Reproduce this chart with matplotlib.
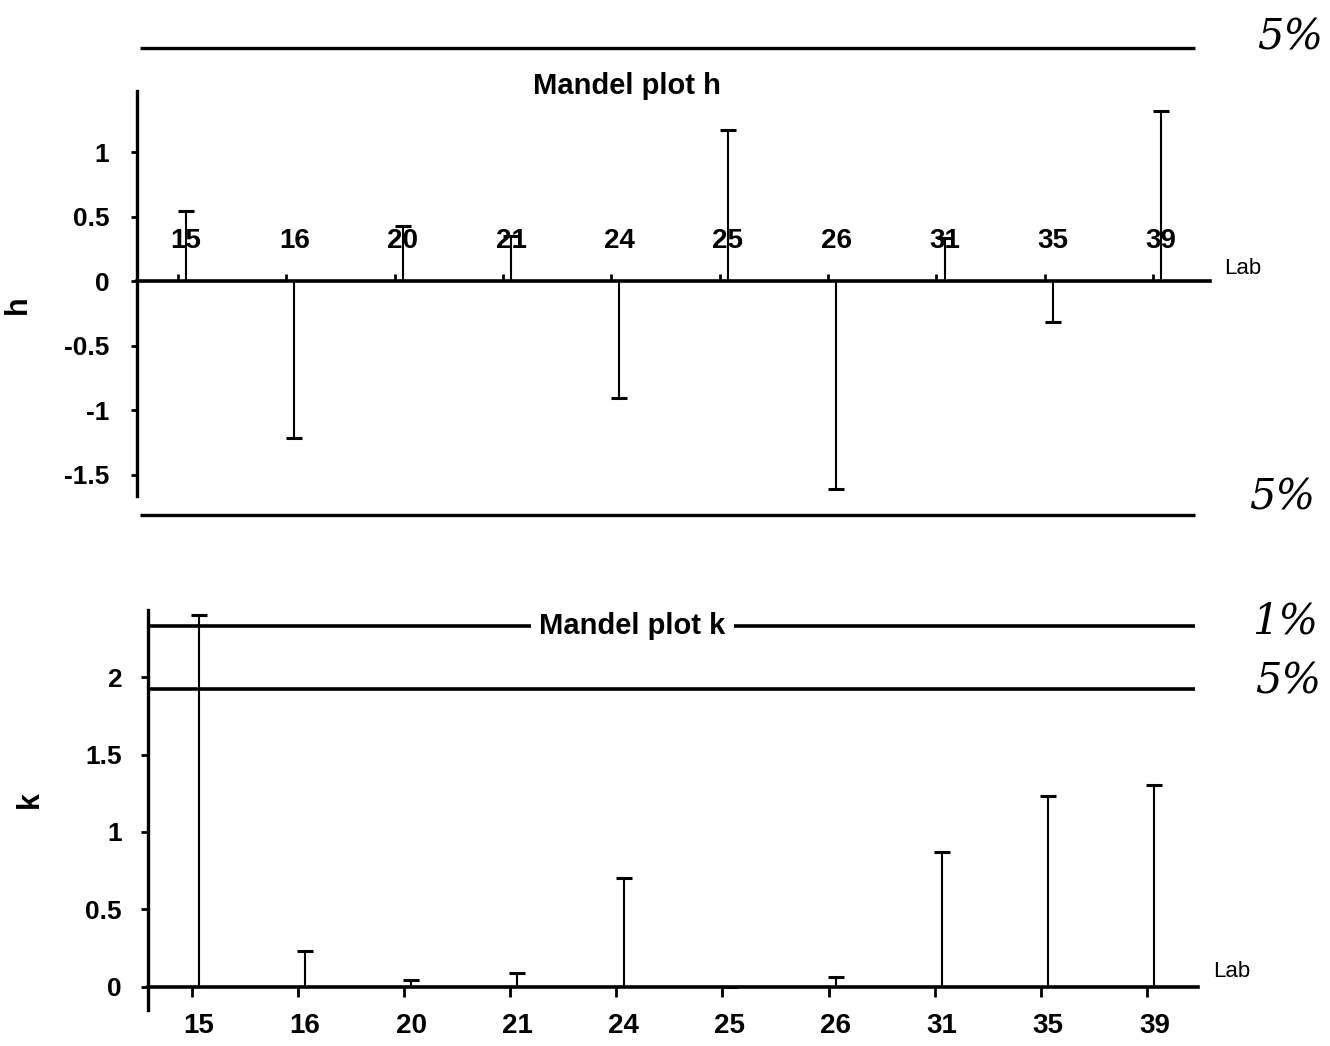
import numpy as np
import matplotlib
matplotlib.use('Agg')
import matplotlib.pyplot as plt
from matplotlib.ticker import FixedLocator

plt.rcParams['font.family'] = ['Liberation Sans Narrow', 'Liberation Sans', 'DejaVu Sans']
plt.rcParams['axes.unicode_minus'] = False

labs = ['15', '16', '20', '21', '24', '25', '26', '31', '35', '39']
h_vals = [0.54, -1.22, 0.43, 0.35, -0.91, 1.17, -1.61, 0.33, -0.32, 1.32]
k_vals = [2.40, 0.23, 0.045, 0.09, 0.70, 0.0, 0.065, 0.87, 1.23, 1.30]
h_crit5 = 1.81
k_crit1 = 2.33
k_crit5 = 1.92
h_ticks = [-1.5, -1, -0.5, 0, 0.5, 1]
h_ticklabels = ['-1.5', '-1', '-0.5', '0', '0.5', '1']
k_ticks = [0, 0.5, 1, 1.5, 2]
k_ticklabels = ['0', '0.5', '1', '1.5', '2']

W, H = 1330, 1046


def px_rect(x0, y0, x1, y1):
    return [x0 / W, 1 - y1 / H, (x1 - x0) / W, (y1 - y0) / H]


def fig_xy(x, y):
    return x / W, 1 - y / H


x = np.arange(len(labs))

fig = plt.figure(figsize=(13.3, 10.46), dpi=100)

# ---- Mandel h ----
ax1 = fig.add_axes(px_rect(137, 30, 1210, 530))
ax1.set_xlim(-0.452, 9.45)
ax1.set_ylim(-1.93, 1.946)
ax1.vlines(x, 0, h_vals, color='k', lw=1.5)
ax1.plot(x, h_vals, ls='none', marker='_', ms=12, mew=2.2, color='k')
ax1.hlines([h_crit5, -h_crit5], -0.42, 9.31, color='k', lw=2.4)

for s in ['top', 'right']:
    ax1.spines[s].set_visible(False)
ax1.spines['left'].set_bounds(-1.67, 1.47)
ax1.spines['left'].set_linewidth(2.4)
ax1.spines['bottom'].set_position(('data', 0))
ax1.spines['bottom'].set_linewidth(2.6)

ax1.set_xticks(x)
ax1.set_xticklabels(labs, fontsize=20, fontweight='bold')
ax1.xaxis.set_minor_locator(FixedLocator(x - 0.075))
ax1.tick_params(axis='x', which='major', length=0, pad=-38)
ax1.tick_params(axis='x', which='minor', direction='in', length=5, width=2)
ax1.set_yticks(h_ticks)
ax1.set_yticklabels(h_ticklabels, fontsize=19, fontweight='bold')
ax1.tick_params(axis='y', direction='out', length=4, width=2, pad=16)
ax1.text(9.58, 0.1, 'Lab', fontsize=16, va='center')

fig.text(*fig_xy(627, 86), 'Mandel plot h', ha='center', va='center',
         fontsize=21, fontweight='bold')
fig.text(*fig_xy(18, 305), 'h', ha='center', va='center', rotation=90,
         fontsize=22, fontweight='bold')

# ---- Mandel k ----
ax2 = fig.add_axes(px_rect(148, 600, 1198, 1015))
ax2.set_xlim(-0.48, 9.41)
ax2.set_ylim(-0.181, 2.497)
ax2.vlines(x, 0, k_vals, color='k', lw=1.5)
ax2.plot(x, k_vals, ls='none', marker='_', ms=12, mew=2.2, color='k')
ax2.hlines([k_crit1, k_crit5], -0.46, 9.38, color='k', lw=2.6)

for s in ['top', 'right']:
    ax2.spines[s].set_visible(False)
ax2.spines['left'].set_bounds(-0.15, 2.43)
ax2.spines['left'].set_linewidth(2.4)
ax2.spines['bottom'].set_position(('data', 0))
ax2.spines['bottom'].set_linewidth(2.6)

ax2.set_xticks(x)
ax2.set_xticklabels(labs, fontsize=20, fontweight='bold')
ax2.xaxis.set_minor_locator(FixedLocator(x - 0.07))
ax2.tick_params(axis='x', which='major', length=0, pad=19)
ax2.tick_params(axis='x', which='minor', direction='out', length=7, width=2)
ax2.set_yticks(k_ticks)
ax2.set_yticklabels(k_ticklabels, fontsize=19, fontweight='bold')
ax2.tick_params(axis='y', direction='out', length=5, width=2, pad=14)
ax2.text(9.55, 0.1, 'Lab', fontsize=16, va='center')

ax2.text(4.08, k_crit1, 'Mandel plot k', ha='center', va='center',
         fontsize=21, fontweight='bold',
         bbox=dict(facecolor='white', edgecolor='none', pad=6))
fig.text(*fig_xy(30, 800), 'k', ha='center', va='center', rotation=90,
         fontsize=22, fontweight='bold')

# handwritten significance marks
hand = dict(family='DejaVu Serif', style='italic', fontsize=30, ha='center', va='center')
fig.text(*fig_xy(1290, 38), '5%', **hand)
fig.text(*fig_xy(1282, 497), '5%', **hand)
fig.text(*fig_xy(1285, 622), '1%', **hand)
fig.text(*fig_xy(1288, 682), '5%', **hand)

fig.savefig('out.png', dpi=100)
